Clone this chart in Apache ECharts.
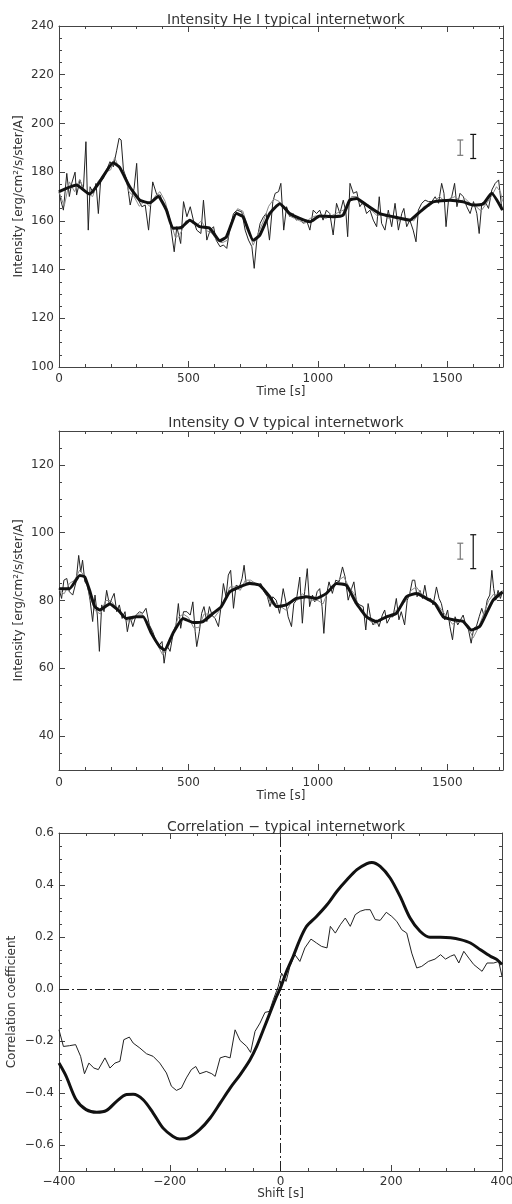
<!DOCTYPE html>
<html>
<head>
<meta charset="utf-8">
<script src="https://cdn.jsdelivr.net/npm/echarts@6/dist/echarts.min.js"></script>
<style>
  html, body { margin: 0; background: #fff; }
  #chart { width: 512px; height: 1204px; }
</style>
</head>
<body>
<div id="chart"></div>
<script>
// ---- He I intensity, [time s, value] ----
const heRaw = [[0,172],[8,168],[17,164.4],[30,179.5],[40,170],[49,175.4],[62,180],[68,170.6],[81,176.8],[94,172.7],[104,192.5],[113,156.2],[120,174],[133,171.3],[143,175.4],[152,163],[161,176.8],[171,177.4],[184,180.9],[197,184.3],[210,182.2],[223,189],[232,193.9],[240,193.2],[249,180.9],[262,176.8],[275,166.5],[290,173.3],[300,183.6],[307,168.5],[320,165.8],[333,166.5],[346,156.2],[362,176],[378,170.6],[391,170.6],[403,166.5],[416,163.7],[429,159.6],[445,147.3],[455,157.6],[470,150.7],[481,167.9],[494,161.7],[507,165.8],[519,160.3],[532,156.2],[548,154.8],[558,168.5],[571,152.1],[584,156.2],[597,157.6],[607,152.1],[622,149.4],[635,150.1],[648,148.7],[661,157.6],[674,163],[687,164.4],[706,163.7],[719,156.2],[732,152.1],[745,149.4],[754,140.5],[764,152.1],[777,159],[790,161.7],[800,163],[813,152.1],[826,167.9],[835,171.3],[848,172],[857,175.4],[868,156.2],[879,165.8],[892,161.7],[904,163],[917,160.3],[930,161],[943,159],[956,160.3],[969,156.2],[982,164.4],[995,163],[1007,164.4],[1020,160.3],[1033,164.4],[1046,163],[1059,154.2],[1072,167.2],[1085,163],[1098,168.5],[1108,163.7],[1115,153.5],[1124,175.4],[1137,171.3],[1150,172],[1162,165.8],[1175,167.9],[1188,163],[1201,164.4],[1214,160.3],[1227,157.6],[1237,169.9],[1246,159],[1259,156.2],[1272,164.4],[1285,157.6],[1298,167.2],[1311,156.2],[1324,163],[1332,165.1],[1343,157.6],[1355,160.3],[1368,156.2],[1379,151.4],[1388,164.4],[1401,167.2],[1414,168.5],[1427,167.9],[1440,167.9],[1453,169.9],[1466,167.2],[1478,175.4],[1487,171.3],[1495,157.6],[1504,167.9],[1517,169.9],[1528,175.4],[1537,165.8],[1549,171.3],[1562,169.9],[1575,165.8],[1588,163],[1601,167.9],[1614,163],[1623,154.8],[1633,167.2],[1646,167.9],[1659,165.1],[1672,172.7],[1685,175.4],[1698,176.8],[1708,167.2],[1713,164.4]];
const heMid = [[0,172],[20,166],[40,176],[60,172],[80,177],[100,172],[130,170],[150,176],[180,180],[200,181],[215,186],[230,182],[250,180],[270,172],[290,170],[310,166],[330,168],[350,166],[370,170],[390,172],[410,168],[430,160],[450,153],[470,155],[490,160],[510,160],[530,158],[550,160],[570,156],[590,155],[610,152],[630,151],[650,152],[670,160],[690,165],[710,164],[730,157],[750,150],[770,155],[790,160],[810,166],[830,169],[850,168],[870,165],[890,162],[910,161],[930,160],[950,159],[970,161],[990,162],[1010,162],[1030,161],[1050,162],[1070,163],[1090,164],[1110,165],[1130,170],[1150,170],[1170,167],[1190,166],[1210,164],[1230,162],[1250,163],[1270,161],[1290,162],[1310,160],[1330,161],[1350,161],[1370,160],[1390,163],[1410,166],[1430,166],[1450,168],[1470,170],[1490,168],[1510,169],[1530,170],[1550,168],[1570,169],[1590,167],[1610,166],[1630,164],[1650,167],[1670,170],[1690,174],[1705,172],[1713,168]];
const heSmooth = [[0,172],[67,174.7],[118,171],[157,176],[209,183.9],[234,182],[273,174],[312,168.5],[350,167.4],[383,170],[415,164.4],[440,157],[473,157.3],[505,160.3],[543,157.6],[582,157],[621,151.8],[647,153.5],[685,163],[711,161.7],[750,152],[775,154],[814,163],[853,167],[891,163],[930,161],[969,159.6],[1007,162],[1059,161.7],[1097,162.3],[1123,168.5],[1149,169.2],[1188,166.5],[1239,163],[1291,161.7],[1355,160.3],[1394,163.7],[1445,167.8],[1510,168.5],[1561,167.8],[1600,166.5],[1638,166.9],[1671,171.3],[1713,164.4]];
const heErr = [[1550,186.9,193.2],[1600,185.6,195.5]];
const heTicks = [100,120,140,160,180,200,220,240];

// ---- O V intensity ----
const ovRaw = [[0,83.5],[10,80.6],[19,86],[30,86.5],[40,82.6],[53,81.6],[66,85.5],[76,93.3],[84,88.4],[91,91.9],[100,85.5],[110,84.5],[120,80.1],[130,73.8],[139,81.6],[148,75.7],[156,65],[165,78.7],[174,76.7],[184,83],[195,78.7],[204,80.6],[213,82.1],[223,76.7],[233,78.7],[244,74.7],[255,76.7],[264,70.8],[275,75.2],[285,72.3],[298,75.7],[311,76.7],[323,76.2],[336,77.7],[349,72.8],[362,70.8],[375,67.9],[388,66.9],[398,67.9],[406,61.5],[416,66.9],[429,65],[442,70.8],[452,72.8],[461,79.1],[470,71.8],[481,76.7],[494,76.7],[507,75.7],[517,79.6],[526,70.8],[532,66.4],[542,70.8],[551,76.2],[560,78.2],[571,73.8],[581,78.2],[591,75.7],[603,74.7],[616,72.3],[625,77.7],[635,85],[645,81.1],[654,87.5],[663,88.9],[674,77.7],[684,84.5],[697,84],[707,86.5],[715,90.4],[723,85],[736,85.5],[751,85],[764,84.5],[780,85],[792,82.6],[805,81.1],[815,78.2],[826,81.1],[839,80.1],[852,76.2],[866,83.5],[876,79.6],[885,75.2],[898,72.3],[907,79.1],[917,80.1],[930,86.9],[940,73.3],[949,82.6],[959,89.4],[968,78.2],[979,81.6],[988,79.6],[997,82.6],[1007,83.5],[1016,78.2],[1023,70.3],[1033,81.6],[1043,85.5],[1056,82.1],[1069,86],[1082,85.5],[1095,89.9],[1105,87],[1117,80.1],[1130,83.5],[1139,85.5],[1149,79.6],[1162,78.7],[1175,78.2],[1185,71.3],[1194,79.1],[1203,75.2],[1213,72.8],[1226,74.3],[1236,72.3],[1249,75.7],[1258,77.2],[1267,73.3],[1280,75.2],[1290,75.2],[1303,80.6],[1313,74.3],[1322,76.7],[1335,72.8],[1345,80.1],[1355,82.1],[1365,86],[1374,86],[1383,81.1],[1394,83],[1404,80.6],[1413,84.5],[1423,80.1],[1435,80.6],[1445,78.7],[1458,84],[1468,80.6],[1477,79.1],[1490,74.3],[1501,77.2],[1510,72.3],[1520,68.4],[1530,75.2],[1540,72.8],[1551,74.3],[1561,75.7],[1571,72.8],[1582,71.3],[1592,67.4],[1602,71.8],[1612,72.3],[1623,75.2],[1633,77.7],[1643,75.2],[1654,80.1],[1664,81.6],[1672,88.9],[1679,83.5],[1687,80.1],[1696,83],[1705,80.6],[1713,82.6]];
const ovMid = [[0,83],[20,82],[40,85],[60,86],[80,89],[100,87],[120,81],[140,77],[160,76],[180,80],[200,80],[220,78],[240,76],[260,74],[280,74],[300,76],[320,76],[340,74],[360,70],[380,67],[400,64],[420,66],[440,70],[460,75],[480,76],[500,75],[520,72],[540,72],[560,76],[580,76],[600,75],[620,77],[640,80],[660,84],[680,84],[700,83],[720,86],[740,86],[760,85],[780,84],[800,82],[820,79],[840,79],[860,78],[880,77],[900,80],[920,80],[940,82],[960,81],[980,80],[1000,80],[1020,79],[1040,83],[1060,84],[1080,86],[1100,87],[1120,84],[1140,82],[1160,78],[1180,76],[1200,74],[1220,73],[1240,74],[1260,75],[1280,75],[1300,77],[1320,78],[1340,80],[1360,83],[1380,84],[1400,82],[1420,81],[1440,80],[1460,79],[1480,77],[1500,75],[1520,73],[1540,74],[1560,74],[1580,72],[1600,69],[1620,72],[1640,76],[1660,80],[1680,82],[1700,81],[1713,83]];
const ovSmooth = [[0,83.5],[41,83.5],[80,87.4],[99,87],[118,83],[138,78.2],[157,77.2],[196,79],[228,77.2],[260,74.7],[299,75.2],[325,75.2],[357,70.3],[389,66.4],[408,65.4],[440,70.3],[479,74.7],[518,73.5],[556,73.8],[595,76.2],[627,78.2],[659,82.5],[698,84],[737,85],[775,84.5],[814,81.1],[840,78.2],[878,78.7],[917,80.6],[956,81.1],[994,80.6],[1033,82.1],[1072,85],[1110,84.5],[1149,79.1],[1188,75.2],[1226,73.8],[1265,75.2],[1303,76.2],[1342,81.1],[1381,82.1],[1419,80.6],[1452,79.1],[1484,75.2],[1522,74.3],[1561,73.8],[1593,71.3],[1625,72.3],[1651,76.2],[1677,80.1],[1713,82.5]];
const ovErr = [[1550,92.2,96.9],[1600,89.4,99.4]];
const ovTicks = [40,60,80,100,120];
const timeTicks = [0,500,1000,1500];

// ---- correlation, [shift s, coefficient] ----
const corrThin = [[-400,-0.157],[-392,-0.221],[-381,-0.218],[-370,-0.214],[-361,-0.259],[-354,-0.326],[-346,-0.285],[-337,-0.304],[-329,-0.31],[-317,-0.265],[-308,-0.304],[-299,-0.285],[-290,-0.278],[-283,-0.195],[-273,-0.185],[-266,-0.208],[-254,-0.227],[-242,-0.249],[-230,-0.259],[-218,-0.285],[-206,-0.323],[-197,-0.374],[-188,-0.39],[-179,-0.381],[-170,-0.342],[-161,-0.31],[-153,-0.298],[-146,-0.326],[-134,-0.317],[-124,-0.326],[-118,-0.336],[-109,-0.265],[-100,-0.259],[-91,-0.265],[-82,-0.157],[-73,-0.198],[-61,-0.221],[-54,-0.244],[-46,-0.163],[-37,-0.131],[-28,-0.09],[-20,-0.086],[-13,-0.041],[-4,0.01],[2,0.061],[10,0.029],[17,0.087],[26,0.132],[35,0.106],[44,0.158],[55,0.192],[65,0.177],[74,0.164],[84,0.158],[90,0.241],[99,0.215],[108,0.247],[117,0.273],[126,0.241],[135,0.286],[144,0.299],[153,0.305],[162,0.305],[171,0.267],[180,0.264],[191,0.295],[201,0.279],[210,0.26],[219,0.228],[228,0.215],[237,0.138],[246,0.081],[255,0.087],[267,0.106],[279,0.115],[289,0.132],[298,0.115],[307,0.126],[314,0.132],[322,0.1],[331,0.145],[340,0.119],[349,0.094],[364,0.068],[373,0.1],[385,0.1],[394,0.106],[400,0.049]];
const corrThick = [[-400,-0.285],[-387,-0.336],[-369,-0.426],[-351,-0.464],[-332,-0.474],[-314,-0.467],[-296,-0.432],[-278,-0.406],[-266,-0.405],[-248,-0.426],[-230,-0.477],[-212,-0.535],[-194,-0.567],[-182,-0.577],[-167,-0.573],[-146,-0.541],[-127,-0.496],[-109,-0.439],[-91,-0.381],[-73,-0.33],[-55,-0.272],[-43,-0.221],[-31,-0.157],[-19,-0.092],[-7,-0.028],[1,0.01],[11,0.068],[23,0.126],[35,0.19],[47,0.241],[65,0.279],[84,0.324],[102,0.376],[120,0.42],[138,0.459],[156,0.482],[165,0.487],[180,0.472],[198,0.427],[216,0.356],[234,0.273],[252,0.222],[270,0.199],[289,0.199],[307,0.197],[325,0.19],[343,0.177],[361,0.151],[379,0.126],[391,0.113],[400,0.094]];
const corrTicks = [-0.6,-0.4,-0.2,0,0.2,0.4,0.6];
const shiftTicks = [-400,-200,0,200,400];

const FONT = 'DejaVu Sans';
const AX = '#444';
const TXT = '#333';

const grids = [
  { left: 59, top: 26, width: 444, height: 341, outerBoundsMode: 'none' },
  { left: 59, top: 431, width: 444, height: 339, outerBoundsMode: 'none' },
  { left: 59, top: 833, width: 443, height: 338, outerBoundsMode: 'none' }
];

const xAxes = [];
const yAxes = [];

function minus(s) { return String(s).replace('-', '\u2212'); }

// bottom/top x axes, left/right y axes, ticks pointing inward like the IDL frame
function addFrame(g, x, y) {
  ['bottom', 'top'].forEach(function (pos) {
    xAxes.push({
      type: 'value', gridIndex: g, position: pos,
      min: x.min, max: x.max, interval: x.interval,
      axisLine: { show: true, onZero: false, lineStyle: { color: AX, width: 1 } },
      axisTick: { show: true, inside: true, length: 6, lineStyle: { color: AX } },
      minorTick: { show: true, splitNumber: x.minor, length: 3, lineStyle: { color: AX } },
      splitLine: { show: false },
      axisLabel: {
        show: pos === 'bottom', customValues: x.ticks, margin: x.margin,
        color: TXT, fontSize: 12, fontFamily: FONT,
        formatter: function (v) { return minus(v); }
      },
      name: pos === 'bottom' ? x.name : '',
      nameLocation: 'middle', nameGap: x.nameGap, nameMoveOverlap: false,
      nameTextStyle: { color: TXT, fontSize: 12, fontFamily: FONT }
    });
  });
  ['left', 'right'].forEach(function (pos) {
    // minor ticks
    yAxes.push({
      type: 'value', gridIndex: g, position: pos,
      min: y.min, max: y.max, interval: y.step,
      axisLine: { show: true, onZero: false, lineStyle: { color: AX, width: 1 } },
      axisTick: { show: true, inside: true, length: 3, lineStyle: { color: AX } },
      axisLabel: { show: false },
      splitLine: { show: false }
    });
    // major ticks + labels
    yAxes.push({
      type: 'value', gridIndex: g, position: pos,
      min: y.min, max: y.max, interval: y.step,
      axisLine: { show: false, onZero: false },
      axisTick: { show: true, inside: true, length: 6, customValues: y.ticks, lineStyle: { color: AX } },
      axisLabel: {
        show: pos === 'left', customValues: y.ticks, margin: 5,
        color: TXT, fontSize: 12, fontFamily: FONT,
        formatter: function (v) { return minus(y.fmt ? y.fmt(v) : v); }
      },
      splitLine: { show: false },
      name: pos === 'left' ? y.name : '',
      nameLocation: 'middle', nameGap: y.nameGap, nameMoveOverlap: false,
      nameTextStyle: { color: TXT, fontSize: 12, fontFamily: FONT }
    });
  });
}

addFrame(0, { min: 0, max: 1715, interval: 500, minor: 5, ticks: timeTicks, margin: 6, name: 'Time [s]', nameGap: 19 },
  { min: 100, max: 240, step: 5, ticks: heTicks, name: 'Intensity [erg/cm\u00b2/s/ster/A]', nameGap: 34 });
addFrame(1, { min: 0, max: 1715, interval: 500, minor: 5, ticks: timeTicks, margin: 7, name: 'Time [s]', nameGap: 20 },
  { min: 30, max: 130, step: 5, ticks: ovTicks, name: 'Intensity [erg/cm\u00b2/s/ster/A]', nameGap: 34 });
addFrame(2, { min: -400, max: 400, interval: 200, minor: 4, ticks: shiftTicks, margin: 5, name: 'Shift [s]', nameGap: 17 },
  { min: -0.7, max: 0.6, step: 0.05, ticks: corrTicks, fmt: function (v) { return v.toFixed(1); },
    name: 'Correlation coefficient', nameGap: 41 });

function line(g, data, color, width, smooth) {
  return {
    type: 'line', xAxisIndex: g * 2, yAxisIndex: g * 4 + 1, data: data,
    showSymbol: false, symbol: 'none', smooth: smooth || false,
    lineStyle: { color: color, width: width }, silent: true, z: 2 + width
  };
}

function errBars(g, data) {
  return {
    type: 'custom', xAxisIndex: g * 2, yAxisIndex: g * 4 + 1, data: data, silent: true, z: 10,
    renderItem: function (params, api) {
      const lo = api.coord([api.value(0), api.value(1)]);
      const hi = api.coord([api.value(0), api.value(2)]);
      const c = params.dataIndex === 0 ? '#777' : '#111';
      const st = { stroke: c, lineWidth: 1.2 };
      return {
        type: 'group', children: [
          { type: 'line', shape: { x1: lo[0], y1: lo[1], x2: hi[0], y2: hi[1] }, style: st },
          { type: 'line', shape: { x1: lo[0] - 3, y1: lo[1], x2: lo[0] + 3, y2: lo[1] }, style: st },
          { type: 'line', shape: { x1: hi[0] - 3, y1: hi[1], x2: hi[0] + 3, y2: hi[1] }, style: st }
        ]
      };
    }
  };
}

const titleStyle = { color: TXT, fontSize: 14, fontFamily: FONT, fontWeight: 'normal' };

const option = {
  animation: false,
  backgroundColor: '#fff',
  title: [
    { text: 'Intensity He I typical internetwork', left: 281, top: 8, textAlign: 'center', textStyle: titleStyle },
    { text: 'Intensity O V typical internetwork', left: 281, top: 411, textAlign: 'center', textStyle: titleStyle },
    { text: 'Correlation \u2212 typical internetwork', left: 281, top: 815, textAlign: 'center', textStyle: titleStyle }
  ],
  grid: grids,
  xAxis: xAxes,
  yAxis: yAxes,
  series: [
    line(0, heRaw, '#222', 1),
    line(0, heMid, '#8a8a8a', 1),
    line(0, heSmooth, '#111', 3, 0.15),
    errBars(0, heErr),
    line(1, ovRaw, '#222', 1),
    line(1, ovMid, '#8a8a8a', 1),
    line(1, ovSmooth, '#111', 3, 0.15),
    errBars(1, ovErr),
    line(2, corrThin, '#222', 1),
    Object.assign(line(2, corrThick, '#111', 3, 0.3), {
      markLine: {
        silent: true, symbol: 'none', label: { show: false },
        lineStyle: { color: '#222', width: 1, type: [10, 3, 2, 3] },
        data: [{ xAxis: 0 }, { yAxis: 0 }]
      }
    })
  ]
};

const myChart = echarts.init(document.getElementById('chart'));
myChart.setOption(option);
</script>
</body>
</html>
